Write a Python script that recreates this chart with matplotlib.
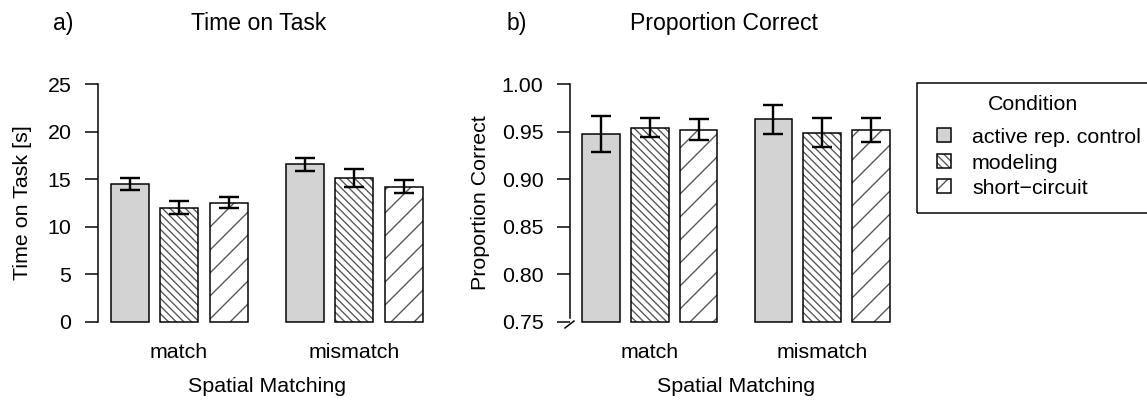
import numpy as np
import matplotlib
matplotlib.use("Agg")
from matplotlib import pyplot as plt
from matplotlib.patches import Rectangle
from matplotlib.lines import Line2D

W, H = 1147, 403
DPI = 138  # chosen so that hatch spacing matches the reference

plt.rcParams['font.family'] = ['Liberation Sans', 'DejaVu Sans']
plt.rcParams['hatch.linewidth'] = 0.7

groups = ['match', 'mismatch']
conditions = ['active rep. control', 'modeling', 'short\u2212circuit']

# time on task [s], rows = spatial matching, cols = condition
tot_mean = [[14.5, 12.0, 12.5], [16.6, 15.1, 14.2]]
tot_lo = [[13.85, 11.33, 11.96], [15.91, 14.17, 13.54]]
tot_hi = [[15.1, 12.73, 13.12], [17.24, 16.12, 14.93]]

# proportion correct
pc_mean = [[0.948, 0.954, 0.952], [0.963, 0.949, 0.952]]
pc_lo = [[0.929, 0.944, 0.941], [0.947, 0.934, 0.9395]]
pc_hi = [[0.9665, 0.9644, 0.963], [0.978, 0.9644, 0.9647]]

tot_ticks = [0, 5, 10, 15, 20, 25]
pc_ticks = [0.75, 0.80, 0.85, 0.90, 0.95, 1.00]

FS = 21.4 * 72 / DPI
FS_T = 23 * 72 / DPI
LW = 1.5 * 72 / DPI
px2pt = 72 / DPI

fills = ['#d3d3d3', 'white', 'white']
hatches = [None, '\\' * 6, '//']


def fx(x):
    return x / W


def fy(y):
    return 1 - y / H


fig = plt.figure(figsize=(W / DPI, H / DPI), dpi=DPI)


def panel(x0, x1, mean, lo, hi, ylim, yticks, ylab, ylab_x, fmt):
    ax = fig.add_axes([fx(x0), fy(331.5), fx(x1 - x0), (331.5 - 74.5) / H])
    bw, gap, ggap = 1.0, 0.3, 1.0
    total = 6 * bw + 4 * gap + ggap
    pad = 0.04 * total
    ax.set_xlim(-pad, total + pad)
    ax.set_ylim(ylim)
    base = yticks[0]
    centers = []
    for g in range(2):
        start = g * (3 * bw + 2 * gap + ggap)
        for c in range(3):
            xl = start + c * (bw + gap)
            xc = xl + bw / 2
            h = mean[g][c] - base
            if hatches[c]:
                ax.bar(xc, h, bw, bottom=base, color='white', edgecolor='#555555',
                       hatch=hatches[c], linewidth=0)
                ax.bar(xc, h, bw, bottom=base, fill=False, edgecolor='black', linewidth=LW)
            else:
                ax.bar(xc, h, bw, bottom=base, color=fills[c], edgecolor='black', linewidth=LW)
            ax.errorbar(xc, mean[g][c],
                        yerr=[[mean[g][c] - lo[g][c]], [hi[g][c] - mean[g][c]]],
                        fmt='none', ecolor='black', elinewidth=2.4 * px2pt,
                        capsize=10 * px2pt, capthick=2.4 * px2pt)
        centers.append(start + 1.5 * bw + gap)
    for s in ['top', 'right', 'bottom']:
        ax.spines[s].set_visible(False)
    ax.spines['left'].set_linewidth(LW)
    ax.set_yticks(yticks)
    ax.set_yticklabels([fmt % t for t in yticks], fontsize=FS)
    ax.tick_params(axis='y', length=13 * px2pt, width=LW, pad=13.5 * px2pt)
    ax.set_xticks([])
    for cx, name in zip(centers, groups):
        xp = ax.transData.transform((cx, 0))[0]
        fig.text(xp / fig.bbox.width, fy(357.5), name,
                 ha='center', va='baseline', fontsize=FS)
    fig.text(fx((x0 + x1) / 2), fy(391.5), 'Spatial Matching', ha='center',
             va='baseline', fontsize=FS)
    fig.text(fx(ylab_x), fy(203), ylab, rotation=90, ha='center', va='center',
             fontsize=FS)
    return ax


ax1 = panel(98, 435.5, tot_mean, tot_lo, tot_hi, (-1, 26), tot_ticks,
            'Time on Task [s]', 22, '%d')
ax1.spines['left'].set_bounds(0, 25)

ax2 = panel(570, 902, pc_mean, pc_lo, pc_hi, (0.74, 1.01), pc_ticks,
            'Proportion Correct', 480.5, '%.2f')
ax2.spines['left'].set_bounds(0.7545, 1.0)
# axis break mark
fig.add_artist(Line2D([fx(565), fx(574)], [fy(328), fy(321)], color='black',
                      linewidth=LW))

# titles
fig.text(fx(53), fy(30), 'a)', ha='left', va='baseline', fontsize=FS_T)
fig.text(fx(259), fy(30), 'Time on Task', ha='center', va='baseline', fontsize=FS_T)
fig.text(fx(507), fy(30), 'b)', ha='left', va='baseline', fontsize=FS_T)
fig.text(fx(724), fy(30), 'Proportion Correct', ha='center', va='baseline', fontsize=FS_T)

# legend drawn by hand
fig.add_artist(Rectangle((fx(917), fy(213)), fx(1170 - 917), (213 - 83) / H,
                         transform=fig.transFigure, fill=False, edgecolor='black',
                         linewidth=LW))
fig.text(fx(1033), fy(110), 'Condition', ha='center', va='baseline', fontsize=FS)
key_tops = [128, 154, 179]
text_base = [143, 169, 194]
for c in range(3):
    kw = dict(transform=fig.transFigure, linewidth=LW)
    rect = ((fx(937), fy(key_tops[c] + 14)), fx(14), 14 / H)
    if hatches[c]:
        fig.add_artist(Rectangle(*rect, facecolor='white', edgecolor='#555555',
                                 hatch=hatches[c], transform=fig.transFigure, linewidth=0))
        fig.add_artist(Rectangle(*rect, fill=False, edgecolor='black', **kw))
    else:
        fig.add_artist(Rectangle(*rect, facecolor=fills[c], edgecolor='black', **kw))
    fig.text(fx(972), fy(text_base[c]), conditions[c], ha='left', va='baseline',
             fontsize=FS)

fig.savefig('out.png', dpi=DPI)
